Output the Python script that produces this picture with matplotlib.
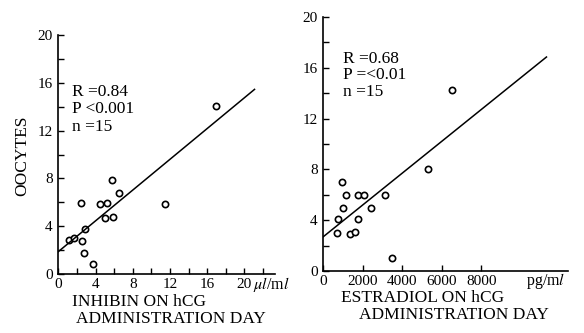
import numpy as np
import matplotlib
matplotlib.use("Agg")
import matplotlib.pyplot as plt

plt.rcParams['font.family'] = ['Liberation Serif', 'DejaVu Serif']
plt.rcParams['mathtext.fontset'] = 'stix'

# inhibin (ul/ml) vs oocytes
inhibin = [1.2, 1.65, 2.4, 2.5, 2.9, 2.8, 3.7, 4.5, 5.25, 5.0, 5.8, 5.9, 6.5, 11.5, 17.0]
oocytes_a = [2.85, 3.0, 5.9, 2.75, 3.8, 1.75, 0.85, 5.85, 5.9, 4.7, 7.85, 4.8, 6.8, 5.85, 14.1]
fit_a = [(0, 1.87), (21.1, 15.45)]

# estradiol (pg/ml) vs oocytes
estradiol = [680, 760, 930, 980, 1150, 1350, 1600, 1740, 1780, 2060, 2400, 3100, 3500, 5300, 6500]
oocytes_b = [3.0, 4.1, 7.0, 5.0, 6.0, 2.9, 3.05, 5.95, 4.1, 5.95, 5.0, 5.95, 1.05, 8.0, 14.25]
fit_b = [(0, 2.7), (11300, 16.85)]

W, H = 584, 333
fig = plt.figure(figsize=(W / 100, H / 100), dpi=100)

def px_axes(x0, x1, ytop, ybot):
    return fig.add_axes([x0 / W, 1 - ybot / H, (x1 - x0) / W, (ybot - ytop) / H])

ax1 = px_axes(58.3, 275, 35, 274)
ax2 = px_axes(323.3, 568, 17, 271)

fs_tick = 11
fs_txt = 12.5
for ax in (ax1, ax2):
    ax.spines['top'].set_visible(False)
    ax.spines['right'].set_visible(False)
    ax.spines['left'].set_linewidth(1.2)
    ax.spines['bottom'].set_linewidth(1.2)
    ax.set_ylim(0, 20)
    ax.set_yticks([0, 4, 8, 12, 16, 20])
    ax.set_yticks(np.arange(2, 20, 4), minor=True)
    ax.tick_params(axis='both', which='both', direction='in', width=1.0, labelsize=fs_tick)
    ax.tick_params(axis='y', which='both', length=4, pad=4)
    ax.tick_params(axis='x', which='both', length=4, pad=3)

# left panel
ax1.set_xlim(0, 23.3)
ax1.set_xticks([0, 4, 8, 12, 16, 20])
ax1.set_xticks([2, 6, 10, 14, 18, 22], minor=True)
ax1.plot(inhibin, oocytes_a, 'o', mfc='white', mec='black', ms=4.5, mew=1.2, clip_on=False)
ax1.plot([p[0] for p in fit_a], [p[1] for p in fit_a], color='black', lw=1.1)
ax1.text(1.5, 15.2, "R =0.84", fontsize=fs_txt, va='center')
ax1.text(1.5, 13.8, "P <0.001", fontsize=fs_txt, va='center')
ax1.text(1.5, 12.3, "n =15", fontsize=fs_txt, va='center')
fig.text(22 / W, 1 - 156 / H, "OOCYTES", rotation=90, fontsize=fs_txt, ha='center', va='center')
fig.text(253 / W, 1 - 285 / H, r"$\mu l$/m$l$", fontsize=11.5, ha='left', va='center')
fig.text(71.7 / W, 1 - 301.7 / H, "INHIBIN ON hCG", fontsize=fs_txt, ha='left', va='center')
fig.text(76 / W, 1 - 319.3 / H, "ADMINISTRATION DAY", fontsize=fs_txt, ha='left', va='center')

# right panel
ax2.set_xlim(0, 12390)
ax2.set_xticks([0, 2000, 4000, 6000, 8000])
ax2.plot(estradiol, oocytes_b, 'o', mfc='white', mec='black', ms=4.5, mew=1.2, clip_on=False)
ax2.plot([p[0] for p in fit_b], [p[1] for p in fit_b], color='black', lw=1.1)
ax2.text(1000, 16.7, "R =0.68", fontsize=fs_txt, va='center')
ax2.text(1000, 15.4, "P =<0.01", fontsize=fs_txt, va='center')
ax2.text(1000, 14.1, "n =15", fontsize=fs_txt, va='center')
fig.text(546 / W, 1 - 281 / H, r"pg/m$l$", fontsize=11.5, ha='center', va='center')
fig.text(340.7 / W, 1 - 297.5 / H, "ESTRADIOL ON hCG", fontsize=fs_txt, ha='left', va='center')
fig.text(359.3 / W, 1 - 315 / H, "ADMINISTRATION DAY", fontsize=fs_txt, ha='left', va='center')

fig.savefig("out.png", dpi=100)
